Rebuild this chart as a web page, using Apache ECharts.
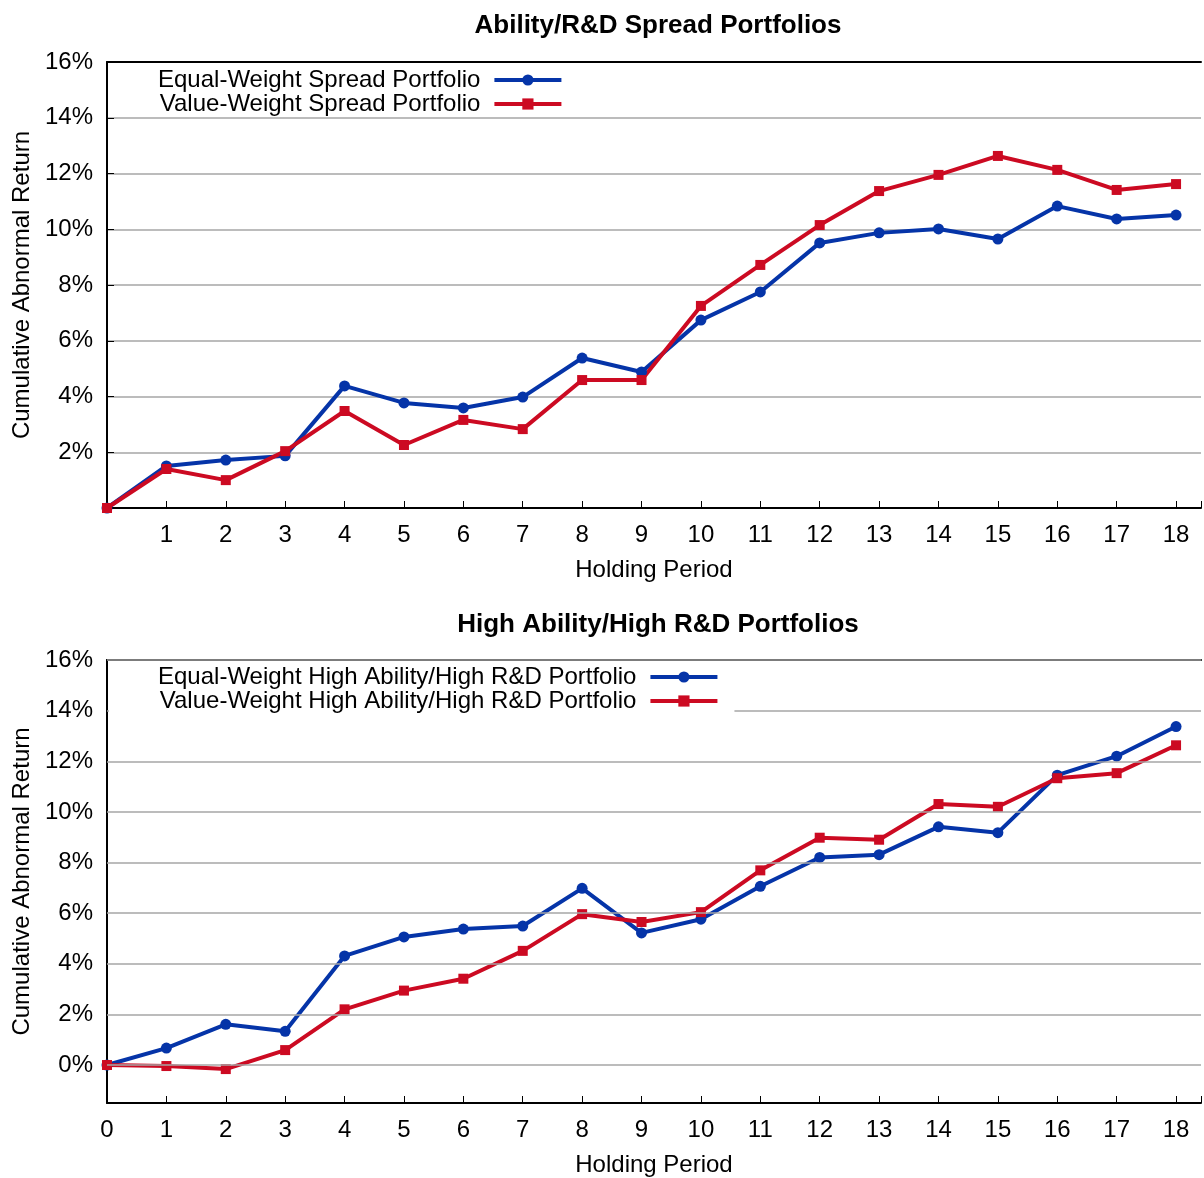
<!DOCTYPE html>
<html><head><meta charset="utf-8">
<script src="https://cdn.jsdelivr.net/npm/echarts@6/dist/echarts.min.js"></script>
<style>html,body{margin:0;padding:0;background:#fff}#c{width:1204px;height:1178px}</style>
</head><body><div id="c"></div>
<script>
// Holding periods (months)
const periods = [0,1,2,3,4,5,6,7,8,9,10,11,12,13,14,15,16,17,18];
// Top panel: Ability/R&D Spread Portfolios (cumulative abnormal return, %)
const spreadEqual = [0,1.51,1.72,1.87,4.38,3.77,3.59,3.98,5.38,4.88,6.74,7.75,9.51,9.87,10.01,9.65,10.83,10.37,10.51];
const spreadValue = [0,1.40,1.00,2.04,3.48,2.26,3.16,2.83,4.59,4.59,7.25,8.72,10.15,11.37,11.95,12.63,12.13,11.41,11.62];
// Bottom panel: High Ability/High R&D Portfolios (%)
const highEqual = [0,0.67,1.61,1.33,4.31,5.06,5.37,5.49,6.98,5.22,5.76,7.06,8.20,8.31,9.41,9.18,11.45,12.20,13.37];
const highValue = [0,-0.04,-0.16,0.59,2.20,2.94,3.41,4.51,5.96,5.65,6.04,7.69,8.98,8.90,10.31,10.20,11.33,11.53,12.63];
// Y tick labels (%)
const yTicks = [0,2,4,6,8,10,12,14,16];

const titles = ['Ability/R&D Spread Portfolios', 'High Ability/High R&D Portfolios'];
const names = [
  ['Equal-Weight Spread Portfolio', 'Value-Weight Spread Portfolio'],
  ['Equal-Weight High Ability/High R&D Portfolio', 'Value-Weight High Ability/High R&D Portfolio']
];

const BLUE = '#0534a8', RED = '#cc0a22';
const FONT = 'Liberation Sans';
const FS = 24;
const TFS = 26;
const pairs = arr => periods.map((p, i) => [p, arr[i]]);

const chart = echarts.init(document.getElementById('c'), null, {renderer: 'canvas'});

function xAxisBottom(gridIndex, showZero) {
  return {
    type: 'value', gridIndex, position: 'bottom', min: 0, max: 18.42, interval: 1,
    name: 'Holding Period', nameLocation: 'middle', nameGap: 50,
    nameTextStyle: {fontFamily: FONT, fontSize: FS, color: '#000'},
    axisLine: {show: true, onZero: false, lineStyle: {color: '#000', width: 2}},
    axisTick: {show: true, inside: true, length: 7, lineStyle: {color: '#000', width: 1}},
    axisLabel: {
      margin: 15, fontFamily: FONT, fontSize: FS, color: '#000',
      formatter: v => (Math.abs(v - Math.round(v)) > 1e-6 || (!showZero && v === 0)) ? '' : String(Math.round(v))
    },
    splitLine: {show: false}
  };
}
function xAxisTop(gridIndex) {
  return {
    type: 'value', gridIndex, position: 'top', min: 0, max: 18.42,
    axisLine: {show: true, onZero: false, lineStyle: {color: '#000', width: 2}},
    axisTick: {show: false}, axisLabel: {show: false}, splitLine: {show: false}
  };
}
const yName = {
  name: 'Cumulative Abnormal Return', nameLocation: 'middle', nameGap: 72,
  nameTextStyle: {fontFamily: FONT, fontSize: FS, color: '#000'}
};

function lineSeries(name, data, xi, yi, color, symbol, size) {
  return {
    type: 'line', name, data: pairs(data), xAxisIndex: xi, yAxisIndex: yi,
    symbol, symbolSize: size, showSymbol: true, clip: false, z: 3,
    lineStyle: {color, width: 4}, itemStyle: {color},
    emphasis: {disabled: true}, animation: false
  };
}

function legendFor(i, top, left, padding, bg) {
  return {
    data: names[i], orient: 'vertical', align: 'right', left, top,
    padding, itemGap: 0, itemWidth: 67, itemHeight: 14,
    backgroundColor: bg ? '#fff' : 'transparent',
    lineStyle: {width: 4},
    textStyle: {fontFamily: FONT, fontSize: FS, color: '#000', lineHeight: 24, padding: [0, 9, 0, 0]},
    selectedMode: false, z: 10
  };
}

chart.setOption({
  animation: false,
  backgroundColor: '#fff',
  title: [
    {text: titles[0], left: 658, textAlign: 'center', top: 13, padding: 0,
     textStyle: {fontFamily: FONT, fontSize: TFS, fontWeight: 'bold', color: '#000'}},
    {text: titles[1], left: 658, textAlign: 'center', top: 612, padding: 0,
     textStyle: {fontFamily: FONT, fontSize: TFS, fontWeight: 'bold', color: '#000'}}
  ],
  legend: [
    legendFor(0, 62, 109, [6, 15, 3, 49], false),
    legendFor(1, 662, 109, [3, 15, 3, 49], true)
  ],
  grid: [
    {left: 107, right: 0, top: 62, height: 446},
    {left: 107, right: 0, top: 660, height: 446}
  ],
  xAxis: [xAxisBottom(0, false), xAxisTop(0), xAxisBottom(1, true), xAxisTop(1)],
  yAxis: [
    Object.assign({
      type: 'value', gridIndex: 0, min: 0, max: 16, interval: 2,
      axisLine: {show: true, lineStyle: {color: '#000', width: 2}},
      axisTick: {show: true, inside: true, length: 7, lineStyle: {color: '#000'}},
      axisLabel: {margin: 14, fontFamily: FONT, fontSize: FS, color: '#000',
        formatter: v => v === 0 ? '' : v + '%'},
      splitLine: {show: true, lineStyle: {color: '#a6a6a6', width: 1.5}}
    }, yName),
    Object.assign({
      type: 'value', gridIndex: 1, min: -1.5, max: 16, interval: 0.5,
      axisLine: {show: true, onZero: false, lineStyle: {color: '#000', width: 2}},
      axisTick: {show: false},
      axisLabel: {margin: 14, fontFamily: FONT, fontSize: FS, color: '#000',
        formatter: v => Math.abs(v % 2) < 1e-9 ? v + '%' : ''},
      splitLine: {show: false}
    }, yName)
  ],
  series: [
    {
      type: 'line', name: 'grid-lines', data: [], xAxisIndex: 2, yAxisIndex: 1, z: 1,
      markLine: {
        silent: true, symbol: 'none', animation: false,
        label: {show: false},
        lineStyle: {color: '#a6a6a6', width: 1.5, type: 'solid'},
        data: yTicks.map(v => ({yAxis: v}))
      }
    },
    lineSeries(names[0][0], spreadEqual, 0, 0, BLUE, 'circle', 11),
    lineSeries(names[0][1], spreadValue, 0, 0, RED, 'rect', 10),
    lineSeries(names[1][0], highEqual, 2, 1, BLUE, 'circle', 11),
    lineSeries(names[1][1], highValue, 2, 1, RED, 'rect', 10)
  ]
});
</script>
</body></html>
